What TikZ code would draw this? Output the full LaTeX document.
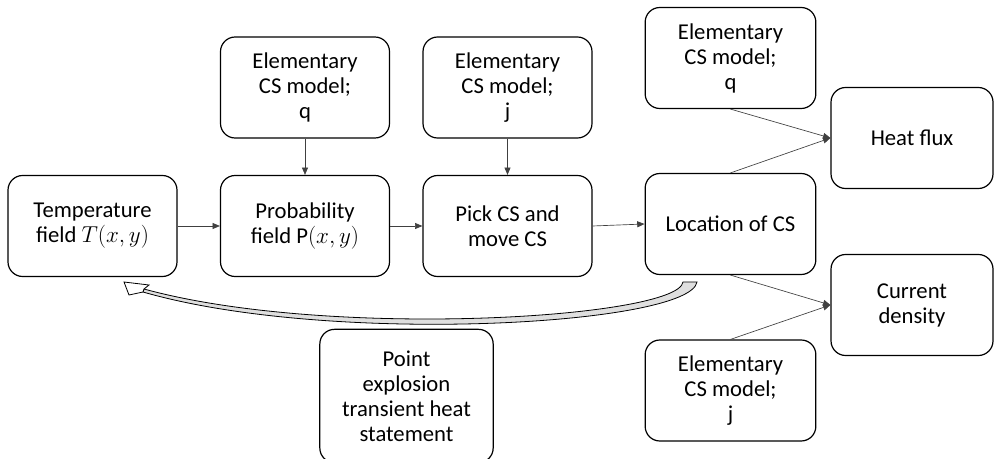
\documentclass[tikz,border=0pt]{standalone}
\usepackage{fontspec}
\setmainfont{Carlito}
\usetikzlibrary{arrows.meta}

\tikzset{
  box/.style={draw, line width=0.9pt, rounded corners=11pt, minimum width=126.75pt,
    minimum height=75.75pt, align=center, inner sep=2pt,
    font=\fontsize{17}{18.75}\selectfont},
  flow/.style={-{Triangle[length=5.5pt,width=4.5pt]}, line width=0.5pt, black!75},
}

\begin{document}
\begin{tikzpicture}[x=0.75pt, y=-0.75pt]
    \useasboundingbox (0,0) rectangle (995,459);
    \clip (0,0) rectangle (995,459);

    % Main chain
    \node[box] (temp) at (92.5,226) {Temperature\\field $T(x,y)$};
    \node[box] (prob) at (305,226) {Probability\\field $\mathrm{P}(x,y)$};
    \node[box] (pick) at (507.5,226) {Pick CS and\\move CS};
    \node[box, minimum width=128pt] (loc) at (730.5,224) {Location of CS};

    % Elementary models
    \node[box] (elemq) at (305,87.5) {Elementary\\CS model;\\q};
    \node[box] (elemj) at (507.5,87.5) {Elementary\\CS model;\\j};
    \node[box, minimum width=128pt] (elemqb) at (730.5,58) {Elementary\\CS model;\\q};
    \node[box, minimum width=128pt] (elemjb) at (730.5,390.5) {Elementary\\CS model;\\j};

    % Outputs
    \node[box, minimum width=121.5pt] (heat) at (912,138) {Heat flux};
    \node[box, minimum width=121.5pt] (curr) at (912,305) {Current\\density};

    % Transient heat statement
    \node[box, minimum width=130pt, minimum height=100pt] (pexp) at (406.5,396) {Point\\explosion\\transient heat\\statement};

    % Connectors
    \draw[flow] (temp) -- (prob);
    \draw[flow] (prob) -- (pick);
    \draw[flow] (pick.east) -- (loc.west);
    \draw[flow] (elemq) -- (prob);
    \draw[flow] (elemj) -- (pick);
    \draw[flow] (elemqb.south) -- (heat.west);
    \draw[flow] (loc.north) -- (heat.west);
    \draw[flow] (loc.south) -- (curr.west);
    \draw[flow] (elemjb.north) -- (curr.west);

    % Curved feedback arrow
    \draw[line width=0.6pt, fill=gray!25] (683,282) -- (697,282)
        .. controls (690,325) and (330,346) .. (143,292)
        -- (144,289)
        .. controls (330,340) and (678,318) .. (683,282) -- cycle;
    \draw[line width=0.6pt, fill=white] (124,282) -- (149,285) -- (144,289)
        -- (143,292) -- (129,295) -- cycle;
\end{tikzpicture}
\end{document}
